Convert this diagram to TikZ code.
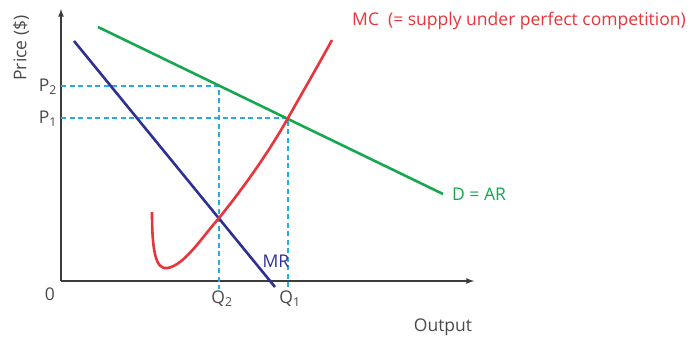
\documentclass[tikz,border=0pt]{standalone}
\usepackage{fontspec}
\setmainfont{Open Sans}
\definecolor{mcred}{HTML}{E8343A}
\definecolor{dgreen}{HTML}{17A84F}
\definecolor{mrblue}{HTML}{2E3192}
\definecolor{dashcyan}{HTML}{29ABE2}
\definecolor{axisgray}{HTML}{3C3C3C}
\definecolor{textgray}{HTML}{4A4A4A}
\begin{document}
\begin{tikzpicture}[x=1pt,y=-1pt,
  curve/.style={line width=2.6pt},
  guide/.style={dashcyan,line width=1.4pt,dash pattern=on 5pt off 3.5pt},
  lbl/.style={font=\fontsize{17.5}{20}\selectfont,text=textgray,inner sep=0pt}]
\useasboundingbox (0,0) rectangle (695,340);

% axes
\coordinate (O) at (61,281);
\draw[axisgray,line width=1.6pt,-latex] (O) -- (61,9);
\draw[axisgray,line width=1.6pt,-latex] (O) -- (474,281);

% price and quantity guides
\coordinate (E2) at (219,86);
\coordinate (E1) at (288,118);
\draw[guide] (61,86) -- (E2) -- (219,289);
\draw[guide] (61,118) -- (E1) -- (288,289);

% demand and marginal revenue
\draw[dgreen,curve] (98,27) -- (443,194);
\draw[mrblue,curve] (74,41) -- (275,287);

% marginal cost
\draw[mcred,curve] (152,212) .. controls (152,248) and (155,271) .. (168,268)
  .. controls (185,264) and (200,240) .. (219,218)
  .. controls (245,186) and (270,150) .. (288,118)
  .. controls (305,88) and (320,62) .. (332,40);

% labels
\node[lbl,rotate=90] (price) at (21,48) {Price (\$)};
\node[lbl,anchor=east] (p2) at (57,87) {P\textsubscript{2}};
\node[lbl,anchor=east] (p1) at (57,119) {P\textsubscript{1}};
\node[lbl] (zero) at (50,294) {0};
\node[lbl] (q2) at (222,299) {Q\textsubscript{2}};
\node[lbl] (q1) at (290,299) {Q\textsubscript{1}};
\node[lbl] (output) at (443,327) {Output};
\node[lbl,text=mrblue] (mr) at (276,261) {MR};
\node[lbl,text=dgreen,anchor=west] (dar) at (452,194) {D = AR};
\node[lbl,text=mcred,anchor=west] (mc) at (352,21) {MC\ \ (= supply under perfect competition)};
\end{tikzpicture}
\end{document}
